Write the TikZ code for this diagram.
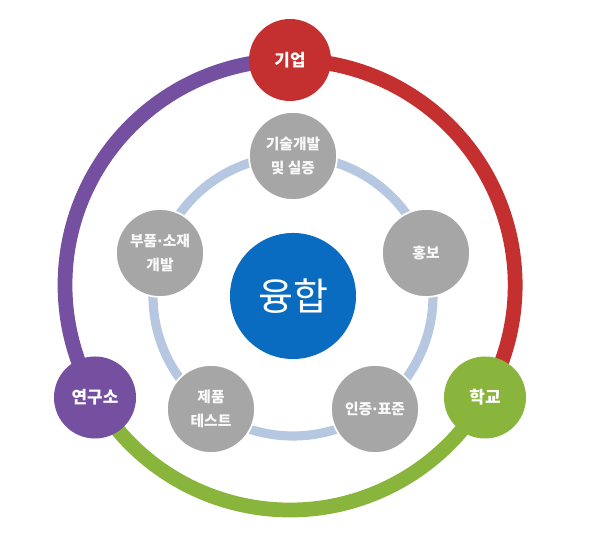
\documentclass[tikz,border=0pt]{standalone}
\usepackage{fontspec}
\setmainfont{Noto Sans CJK KR}
\newfontfamily\dotfont{DejaVu Sans}
\usetikzlibrary{backgrounds}

\definecolor{kiupred}{HTML}{C4302F}
\definecolor{labpurple}{HTML}{7650A0}
\definecolor{schoolgreen}{HTML}{8AB53C}
\definecolor{hubblue}{HTML}{0A6CC0}
\definecolor{taskgray}{HTML}{A6A6A6}
\definecolor{ringblue}{HTML}{B5C7E1}
\newcommand{\middot}{{\dotfont\bfseries ·}}

\begin{document}
\begin{tikzpicture}[x=0.025cm, y=0.025cm,
    partner/.style={circle, minimum size=2.05cm, inner sep=0pt, text=white,
        font=\bfseries\fontsize{12}{14}\selectfont},
    task/.style={circle, minimum size=2.2cm, inner sep=0pt, fill=taskgray,
        draw=white, line width=1.2pt, text=white!95!gray, align=center,
        font=\bfseries\fontsize{10.5}{17}\selectfont},
    outerring/.style={line width=10.5pt},
    innerring/.style={line width=6.5pt, draw=ringblue}]
    \useasboundingbox (0,0) rectangle (600,537);

    \node[circle, minimum size=3.15cm, inner sep=0pt, fill=hubblue, text=white,
        font=\fontsize{27}{30}\selectfont] (hub) at (293,241) {융합};

    \node[partner, fill=kiupred] (kiup) at (290,477) {기업};
    \node[partner, fill=labpurple] (lab) at (95,139.5) {연구소};
    \node[partner, fill=schoolgreen] (school) at (485,139.5) {학교};

    \node[task] (tech) at (293,381) {기술개발\\및 실증};
    \node[task] (promo) at (426,284) {홍보};
    \node[task] (cert) at (375,128) {인증\middot 표준};
    \node[task] (test) at (211,128) {제품\\테스트};
    \node[task] (parts) at (160,284) {부품\middot 소재\\개발};

    \begin{pgfonlayer}{background}
        \draw[outerring, labpurple] (kiup.center) arc[start angle=90, end angle=210, radius=225];
        \draw[outerring, schoolgreen] (lab.center) arc[start angle=210, end angle=330, radius=225];
        \draw[outerring, kiupred] (school.center) arc[start angle=-30, end angle=90, radius=225];
        \draw[innerring] (hub.center) circle[radius=140];
    \end{pgfonlayer}
\end{tikzpicture}
\end{document}
